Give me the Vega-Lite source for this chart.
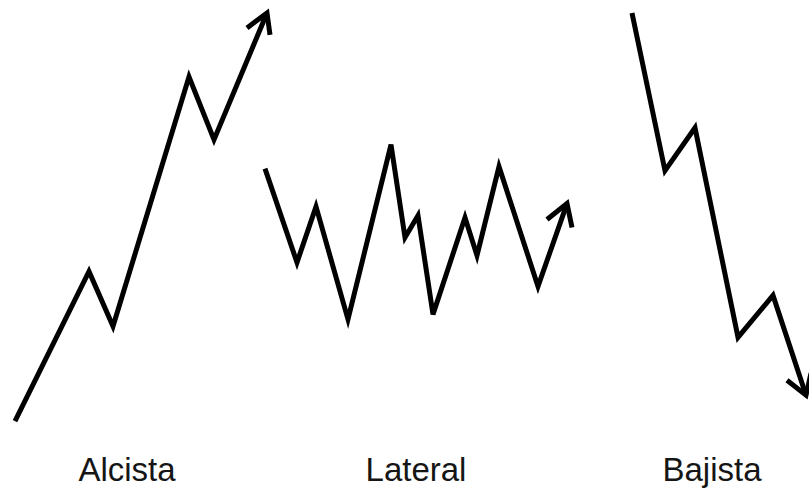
{
  "$schema": "https://vega.github.io/schema/vega-lite/v6.json",
  "width": 809,
  "height": 488,
  "autosize": {"type": "fit", "contains": "padding"},
  "padding": 0,
  "background": "white",
  "config": {"view": {"stroke": null}},
  "datasets": {
    "lines": [
      {"s": "Alcista", "i": 0, "x": 15, "y": 422},
      {"s": "Alcista", "i": 1, "x": 89, "y": 272},
      {"s": "Alcista", "i": 2, "x": 113, "y": 327},
      {"s": "Alcista", "i": 3, "x": 189, "y": 77},
      {"s": "Alcista", "i": 4, "x": 214, "y": 140},
      {"s": "Alcista", "i": 5, "x": 267, "y": 13},
      {"s": "AlcistaHead", "i": 0, "x": 247, "y": 28},
      {"s": "AlcistaHead", "i": 1, "x": 267, "y": 13},
      {"s": "AlcistaHead", "i": 2, "x": 270, "y": 35},
      {"s": "Lateral", "i": 0, "x": 265, "y": 169},
      {"s": "Lateral", "i": 1, "x": 297, "y": 263},
      {"s": "Lateral", "i": 2, "x": 316, "y": 207},
      {"s": "Lateral", "i": 3, "x": 348, "y": 320},
      {"s": "Lateral", "i": 4, "x": 391, "y": 145},
      {"s": "Lateral", "i": 5, "x": 405, "y": 238},
      {"s": "Lateral", "i": 6, "x": 418, "y": 216},
      {"s": "Lateral", "i": 7, "x": 433, "y": 315},
      {"s": "Lateral", "i": 8, "x": 465, "y": 218},
      {"s": "Lateral", "i": 9, "x": 477, "y": 256},
      {"s": "Lateral", "i": 10, "x": 499, "y": 167},
      {"s": "Lateral", "i": 11, "x": 538, "y": 287},
      {"s": "Lateral", "i": 12, "x": 567, "y": 204},
      {"s": "LateralHead", "i": 0, "x": 547, "y": 220},
      {"s": "LateralHead", "i": 1, "x": 567, "y": 204},
      {"s": "LateralHead", "i": 2, "x": 572, "y": 228},
      {"s": "Bajista", "i": 0, "x": 632, "y": 13},
      {"s": "Bajista", "i": 1, "x": 665, "y": 171},
      {"s": "Bajista", "i": 2, "x": 695, "y": 128},
      {"s": "Bajista", "i": 3, "x": 738, "y": 338},
      {"s": "Bajista", "i": 4, "x": 773, "y": 296},
      {"s": "Bajista", "i": 5, "x": 806, "y": 396},
      {"s": "BajistaHead", "i": 0, "x": 787, "y": 381},
      {"s": "BajistaHead", "i": 1, "x": 806, "y": 396},
      {"s": "BajistaHead", "i": 2, "x": 811, "y": 374}
    ],
    "labels": [
      {"label": "Alcista", "x": 127, "y": 482},
      {"label": "Lateral", "x": 416, "y": 482},
      {"label": "Bajista", "x": 712, "y": 482}
    ]
  },
  "layer": [
    {
      "data": {"name": "lines"},
      "mark": {"type": "line", "color": "#000000", "strokeWidth": 5, "strokeJoin": "miter", "strokeCap": "butt", "clip": true},
      "encoding": {
        "x": {"field": "x", "type": "quantitative", "scale": {"domain": [0, 809], "nice": false, "zero": false}, "axis": null},
        "y": {"field": "y", "type": "quantitative", "scale": {"domain": [0, 488], "nice": false, "zero": false, "reverse": true}, "axis": null},
        "detail": {"field": "s", "type": "nominal"},
        "order": {"field": "i", "type": "quantitative"}
      }
    },
    {
      "data": {"name": "labels"},
      "mark": {"type": "text", "font": "Liberation Sans, Arial", "fontSize": 33, "baseline": "alphabetic", "align": "center", "color": "#151515"},
      "encoding": {
        "x": {"field": "x", "type": "quantitative", "scale": {"domain": [0, 809], "nice": false, "zero": false}, "axis": null},
        "y": {"field": "y", "type": "quantitative", "scale": {"domain": [0, 488], "nice": false, "zero": false, "reverse": true}, "axis": null},
        "text": {"field": "label", "type": "nominal"}
      }
    }
  ]
}
